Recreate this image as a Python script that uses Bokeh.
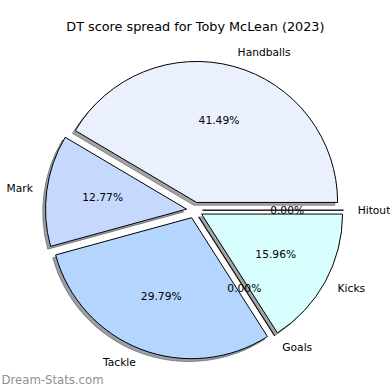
import numpy as np
from bokeh.plotting import figure
from bokeh.models import Range1d, ColumnDataSource
from bokeh.core.properties import value
from bokeh.embed import file_html
from bokeh.resources import INLINE

# ---------------- data ----------------
labels = ["Handballs", "Mark", "Tackle", "Goals", "Kicks", "Hitout"]
counts = [39, 12, 28, 0, 15, 0]
colors = ["#eaf0fe", "#c6d8fe", "#b4d5fe", "#c0e0ff", "#d9fefe", "#dde8ff"]
title_text = "DT score spread for Toby McLean (2023)"
watermark_text = "Dream-Stats.com"

# ---------------- layout / style ----------------
W = H = 390
MARGIN = 0
PX = 141.0                    # pixels per unit radius
CX, CY = 194.0, 209.7         # pie centre in page pixels
EXPLODE = 0.057
SHADOW = 0.02
LABEL_DIST = 1.1
PCT_DIST = 0.6
FONT = "DejaVu Sans"
LABEL_SIZE = "10.7px"
TITLE_SIZE = "12.8px"
label_nudge = {}


def page_to_data(px, py):
    return (px - CX) / PX, (CY - py) / PX


x0, _ = page_to_data(MARGIN, 0)
x1, _ = page_to_data(MARGIN + W, 0)
_, y1 = page_to_data(0, MARGIN)
_, y0 = page_to_data(0, MARGIN + H)

p = figure(width=W, height=H, x_range=Range1d(x0, x1), y_range=Range1d(y0, y1),
           x_axis_type=None, y_axis_type=None, toolbar_location=None,
           output_backend="svg", min_border=0, outline_line_color=None,
           background_fill_color="white", border_fill_color="white")
p.grid.visible = False

vals = np.array(counts, dtype=float)
frac = vals / vals.sum()
theta2 = 2 * np.pi * np.cumsum(frac)
theta1 = theta2 - 2 * np.pi * frac
mid = (theta1 + theta2) / 2
ex = EXPLODE * np.cos(mid)
ey = EXPLODE * np.sin(mid)
nz = vals > 0


def shade(hexcol):
    r, g, b = (int(hexcol[i:i + 2], 16) for i in (1, 3, 5))
    return "#%02x%02x%02x" % (int(r * 0.3), int(g * 0.3), int(b * 0.3))


shadow_cols = [shade(c) for c in colors]

# shadows
sh = ColumnDataSource(dict(x=ex[nz] - SHADOW, y=ey[nz] - SHADOW,
                           s=theta1[nz], e=theta2[nz],
                           c=[shadow_cols[i] for i in np.where(nz)[0]]))
p.wedge(x="x", y="y", radius=1.0, start_angle="s", end_angle="e",
        direction="anticlock", fill_color="c", fill_alpha=0.5,
        line_color="c", line_alpha=0.5, source=sh)

# zero-size slices (lines)
zz = ~nz
zs = ColumnDataSource(dict(x0=ex[zz], y0=ey[zz],
                           x1=ex[zz] + np.cos(mid[zz]), y1=ey[zz] + np.sin(mid[zz]),
                           c=[shadow_cols[i] for i in np.where(zz)[0]]))
p.segment(x0="x0", y0="y0", x1="x1", y1="y1", source=zs,
          line_color="#8c8c8c", line_width=1.5)

# wedges
ws = ColumnDataSource(dict(x=ex[nz], y=ey[nz], s=theta1[nz], e=theta2[nz],
                           c=[colors[i] for i in np.where(nz)[0]]))
p.wedge(x="x", y="y", radius=1.0, start_angle="s", end_angle="e",
        direction="anticlock", fill_color="c", line_color="black",
        line_width=1, source=ws)

p.segment(x0="x0", y0="y0", x1="x1", y1="y1", source=zs,
          line_color="black", line_width=1)

# labels
lx = ex + LABEL_DIST * np.cos(mid)
ly = ey + LABEL_DIST * np.sin(mid)
align = ["left" if v > 0 else "right" for v in lx]
offs = [label_nudge.get(l, 0) for l in labels]
ls = ColumnDataSource(dict(x=lx, y=ly, t=labels, a=align, o=offs))
p.text(x="x", y="y", text="t", text_align="a", x_offset="o",
       text_baseline="middle", text_font=value(FONT),
       text_font_size=LABEL_SIZE, text_color="black", source=ls)

# percentages
pcts = ["%.2f%%" % (f * 100) for f in frac]
ps = ColumnDataSource(dict(x=ex + PCT_DIST * np.cos(mid),
                           y=ey + PCT_DIST * np.sin(mid), t=pcts))
p.text(x="x", y="y", text="t", text_align="center", text_baseline="middle",
       text_font=value(FONT), text_font_size=LABEL_SIZE, text_color="black",
       source=ps)

# title
tx, ty = page_to_data(194.9, 25.7)
p.text(x=[tx], y=[ty], text=[title_text], text_align="center",
       text_baseline="middle", text_font=value(FONT),
       text_font_size=TITLE_SIZE, text_color="black")

# watermark
wx, wy = page_to_data(1, 379)
p.text(x=[wx], y=[wy], text=[watermark_text], text_align="left",
       text_baseline="middle", text_font=value(FONT),
       text_font_size="11.7px", text_color="#808080", text_alpha=0.9)

open("out.html", "w").write(file_html(p, INLINE))
